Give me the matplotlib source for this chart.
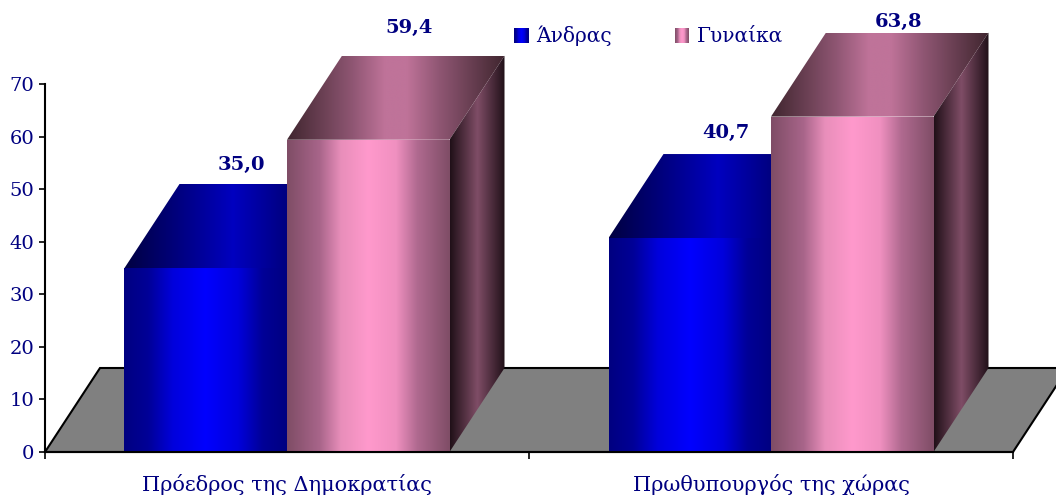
import numpy as np
import matplotlib
matplotlib.use("Agg")
import matplotlib.pyplot as plt
from matplotlib.colors import LinearSegmentedColormap as LSC
from matplotlib.patches import Polygon

categories = ["Πρόεδρος της Δημοκρατίας", "Πρωθυπουργός της χώρας"]
series_names = ["Άνδρας", "Γυναίκα"]
men = [35.0, 40.7]
women = [59.4, 63.8]
value_labels_men = ["35,0", "40,7"]
value_labels_women = ["59,4", "63,8"]
y_ticks = [0, 10, 20, 30, 40, 50, 60, 70]

W, H = 1056, 495
NAVY = "#000080"
SERIF = "DejaVu Serif"
fig = plt.figure(figsize=(W / 100, H / 100), dpi=100)
AX_H = 368
ax = fig.add_axes([45 / W, (H - 452) / H, 968 / W, AX_H / H])
ax.patch.set_visible(False)

DX = 55 / 484
DY = 84 / (AX_H / 70)
BAR_W = 162.5 / 484

blue_front = LSC.from_list("bf", [(0, "#000080"), (.15, "#000098"), (.3, "#0000dc"), (.5, "#0000ff"),
                                  (.7, "#0000dc"), (.85, "#000098"), (1, "#000080")])
blue_top = LSC.from_list("bt", [(0, "#000040"), (.3, "#00008c"), (.5, "#0000c0"),
                                (.7, "#00008c"), (1, "#000040")])
pink_front = LSC.from_list("pf", [(0, "#7f4d66"), (.2, "#a8658a"), (.33, "#e88eba"), (.5, "#ff99cc"),
                                  (.67, "#f090c0"), (.8, "#b06a90"), (1, "#7f4d66")])
pink_top = LSC.from_list("pt", [(0, "#40262f"), (.3, "#8f5673"), (.45, "#bf7399"), (.55, "#bf7399"),
                                (.7, "#8f5673"), (1, "#40262f")])
pink_side = LSC.from_list("ps", ["#201018", "#7f4d66", "#201018"])

grad = np.linspace(0, 1, 256)[None, :]


def face(pts, cmap, z):
    """Horizontal gradient across the bounding box of a polygon, clipped to it."""
    pts = np.asarray(pts, float)
    ext = (pts[:, 0].min(), pts[:, 0].max(), pts[:, 1].min(), pts[:, 1].max())
    im = ax.imshow(grad, cmap=cmap, extent=ext, aspect="auto", vmin=0, vmax=1,
                   zorder=z, interpolation="bilinear", origin="lower")
    im.set_clip_path(Polygon(pts, closed=True, transform=ax.transData))
    im.set_clip_box(fig.bbox)


def bar3d(x0, val, cf, ct, cs, z):
    x1 = x0 + BAR_W
    face([(x0, 0), (x1, 0), (x1, val), (x0, val)], cf, z + .2)
    face([(x0, val), (x1, val), (x1 + DX, val + DY), (x0 + DX, val + DY)], ct, z)
    if cs is not None:
        face([(x1, 0), (x1 + DX, DY), (x1 + DX, val + DY), (x1, val)], cs, z + .1)


# floor
ax.add_patch(Polygon([(0, 0), (DX, DY), (2 + DX, DY), (2, 0)], closed=True,
                     facecolor="#808080", edgecolor="black", lw=1.5,
                     zorder=1, clip_on=False))

for i in range(2):
    c = i + .5
    bar3d(c - BAR_W, men[i], blue_front, blue_top, None, 3)
    bar3d(c, women[i], pink_front, pink_top, pink_side, 4)

ax.set_xlim(0, 2)
ax.set_ylim(0, 70)

offs_men = [(36, 19), (36, 21)]
offs_women = [(41, 28), (46, 11)]
bold = dict(family=SERIF, weight="bold", color=NAVY, fontsize=14,
            ha="center", va="center", zorder=10, annotation_clip=False)
for i in range(2):
    c = i + .5
    ax.annotate(value_labels_men[i], (c - BAR_W / 2, men[i] + DY), xycoords="data",
                xytext=(offs_men[i][0] * .72, offs_men[i][1] * .72),
                textcoords="offset points", **bold)
    ax.annotate(value_labels_women[i], (c + BAR_W / 2, women[i] + DY), xycoords="data",
                xytext=(offs_women[i][0] * .72, offs_women[i][1] * .72),
                textcoords="offset points", **bold)

# axes
for s in ("top", "right"):
    ax.spines[s].set_visible(False)
for s in ("left", "bottom"):
    ax.spines[s].set_linewidth(1.5)
    ax.spines[s].set_zorder(8)
ax.set_yticks(y_ticks)
ax.set_yticklabels([str(v) for v in y_ticks], family=SERIF, fontsize=14, color=NAVY)
ax.set_xticks([0, 1, 2])
ax.set_xticklabels([])
ax.set_xticks([.5, 1.5], labels=categories, minor=True, family=SERIF, fontsize=15, color=NAVY)
ax.tick_params(axis="y", which="major", length=4.5, width=1.2, color="black", pad=3)
ax.tick_params(axis="x", which="major", length=5, width=1.2, color="black")
ax.tick_params(axis="x", which="minor", length=0, pad=16)

# legend
lax = fig.add_axes([0, 0, 1, 1], facecolor="none")
lax.axis("off")
for x, w, cm, name, tx in [(514, 15, blue_front, series_names[0], 536),
                           (675, 14, pink_front, series_names[1], 697)]:
    lax.imshow(grad, cmap=cm, extent=(x, x + w, 43, 28), aspect="auto", vmin=0, vmax=1)
    lax.text(tx, 36, name, family=SERIF, fontsize=14.5, color=NAVY, va="center", ha="left")
lax.set_xlim(0, W)
lax.set_ylim(H, 0)

fig.savefig("out.png", dpi=100)
